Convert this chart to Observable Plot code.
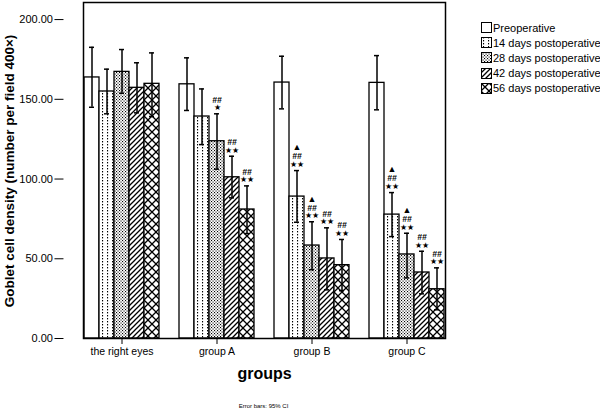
<!DOCTYPE html>
<html><head><meta charset="utf-8">
<script src="https://cdn.jsdelivr.net/npm/d3@7"></script>
<script src="https://cdn.jsdelivr.net/npm/@observablehq/plot@0.6"></script>
<style>
body{margin:0;background:#fff;font-family:"Liberation Sans",Arial,sans-serif;}
#wrap{position:relative;width:600px;height:411px;}
#legend{position:absolute;left:481px;top:20px;font-size:11px;color:#000;}
.item{display:flex;align-items:center;height:15.2px;white-space:nowrap;}
.item svg{margin-right:1px;flex:none;}
#caption{position:absolute;left:0;width:527px;text-align:center;top:403px;font-size:6px;color:#000;}
#ylabel{position:absolute;left:9px;top:171px;transform:translate(-50%,-50%) rotate(-90deg);white-space:nowrap;font-size:13.5px;font-weight:bold;color:#000;}
</style></head><body>
<svg width="0" height="0" style="position:absolute">
<defs>
<pattern id="pat-pre" width="4" height="4" patternUnits="userSpaceOnUse"><rect width="4" height="4" fill="#fff"/></pattern>
<pattern id="pat-d14" width="5" height="3" patternUnits="userSpaceOnUse"><rect width="5" height="3" fill="#fff"/><rect x="2" y="0" width="1.1" height="1.4" fill="#000"/></pattern>
<pattern id="pat-d28" width="3" height="3" patternUnits="userSpaceOnUse"><rect width="3" height="3" fill="#fff"/><rect x="0" y="0" width="1.1" height="1.1" fill="#000"/><rect x="1.5" y="1.5" width="1.1" height="1.1" fill="#000"/></pattern>
<pattern id="pat-d42" width="5" height="5" patternUnits="userSpaceOnUse"><rect width="5" height="5" fill="#fff"/><path d="M0,5L5,0M-1,1L1,-1M4,6L6,4" stroke="#000" stroke-width="1.3"/></pattern>
<pattern id="pat-d56" width="8" height="8" patternUnits="userSpaceOnUse"><rect width="8" height="8" fill="#fff"/><path d="M0,0L8,8M0,8L8,0" stroke="#000" stroke-width="1.3"/></pattern>
</defs></svg>
<div id="wrap"><div id="chart"></div><div id="ylabel"></div><div id="legend"></div><div id="caption">Error bars: 95% CI</div></div>
<script>
const groups = ["the right eyes", "group A", "group B", "group C"];
const series = ["Preoperative", "14 days postoperative", "28 days postoperative", "42 days postoperative", "56 days postoperative"];
const patternIds = ["pat-pre", "pat-d14", "pat-d28", "pat-d42", "pat-d56"];

// means per series, across groups
const preopMean = [163.7, 159.4, 160.5, 160.3];
const d14Mean   = [154.9, 139.2, 89.0, 77.7];
const d28Mean   = [167.2, 123.7, 58.3, 52.7];
const d42Mean   = [157.2, 101.1, 50.2, 41.4];
const d56Mean   = [159.7, 80.9, 46.0, 30.9];
// 95% CI lower bounds
const preopLo = [145.0, 143.0, 144.0, 143.4];
const d14Lo   = [140.9, 121.6, 72.9, 63.9];
const d28Lo   = [153.8, 106.2, 43.1, 38.0];
const d42Lo   = [141.5, 88.2, 30.5, 28.0];
const d56Lo   = [139.2, 65.8, 30.0, 18.0];
// 95% CI upper bounds
const preopHi = [182.6, 176.0, 177.0, 177.4];
const d14Hi   = [168.9, 156.5, 105.3, 91.5];
const d28Hi   = [181.2, 140.9, 73.2, 66.0];
const d42Hi   = [172.9, 114.3, 69.4, 54.7];
const d56Hi   = [179.1, 95.7, 62.1, 44.3];
// significance marks per series, across groups
const hashSig = [["","","",""], ["","","##","##"], ["","##","##","##"], ["","##","##","##"], ["","##","##","##"]];
const starSig = [["","","",""], ["","","★★","★★"], ["","★","★★","★★"], ["","★★","★★","★★"], ["","★★","★★","★★"]];
const triSig  = [["","","",""], ["","","▲","▲"], ["","","▲","▲"], ["","","",""], ["","","",""]];

const yLabel = "Goblet cell density (number per field 400×)";
const xLabel = "groups";
const yTicks = [0, 50, 100, 150, 200];

const means = [preopMean, d14Mean, d28Mean, d42Mean, d56Mean];
const los = [preopLo, d14Lo, d28Lo, d42Lo, d56Lo];
const his = [preopHi, d14Hi, d28Hi, d42Hi, d56Hi];

const rows = [];
series.forEach((s, si) => groups.forEach((g, gi) => rows.push({
  group: g, series: s, mean: means[si][gi], lo: los[si][gi], hi: his[si][gi],
  hash: hashSig[si][gi], star: starSig[si][gi], tri: triSig[si][gi]
})));

const W = 600, ML = 63, MR = 136;
const padIn = 0.19, padOut = 0.2055;
const step = (W - ML - MR) / (groups.length - padIn + 2 * padOut);
const axisShift = -padOut * step; // move y axis from first facet edge to frame edge

const F = {fx: "group", x: "series"};
const chart = Plot.plot({
  width: W, height: 411,
  marginLeft: ML, marginRight: MR, marginTop: 2, marginBottom: 73,
  style: {fontFamily: "Liberation Sans, Arial, sans-serif", background: "white", color: "black"},
  fx: {domain: groups, paddingInner: padIn, paddingOuter: padOut, label: null},
  x: {domain: series, padding: 0, axis: null},
  y: {domain: [0, 210.7], axis: null},
  color: {domain: series, range: patternIds.map(id => `url(#${id})`)},
  marks: [
    Plot.barY(rows, {...F, y: "mean", fill: "series", stroke: "black", strokeWidth: 1.3}),
    Plot.ruleX(rows, {...F, y1: "lo", y2: "hi", strokeWidth: 1.5}),
    Plot.tickY(rows, {...F, y: "hi", inset: 5, strokeWidth: 1.5}),
    Plot.tickY(rows, {...F, y: "lo", inset: 5, strokeWidth: 1.5}),
    Plot.text(rows, {...F, y: "hi", text: "star", dy: -6, fontSize: 8}),
    Plot.text(rows, {...F, y: "hi", text: "hash", dy: -14, fontSize: 8.5, fontStyle: "italic", fontWeight: "bold"}),
    Plot.text(rows, {...F, y: "hi", text: "tri", dy: -23, fontSize: 9}),
    Plot.frame({facet: "super", strokeWidth: 1.5}),
    Plot.axisY({ticks: yTicks, tickFormat: d3.format(".2f"), tickSize: 9, tickPadding: 2, fontSize: 11, label: null, dx: axisShift}),
    Plot.axisFx({anchor: "bottom", tickSize: 6, tickPadding: 3, fontSize: 10.5, label: null}),
    Plot.text([xLabel], {facet: "super", frameAnchor: "bottom", dy: 40, fontSize: 16, fontWeight: "bold"})
  ]
});
document.getElementById("chart").appendChild(chart);
document.getElementById("ylabel").textContent = yLabel;

const legend = d3.select("#legend");
series.forEach((s, i) => {
  const item = legend.append("div").attr("class", "item");
  const sw = item.append("svg").attr("width", 11).attr("height", 11);
  sw.append("rect").attr("x", 0.5).attr("y", 0.5).attr("width", 10).attr("height", 10)
    .attr("fill", `url(#${patternIds[i]})`).attr("stroke", "black").attr("stroke-width", 1);
  item.append("span").text(s);
});
</script>
</body></html>
